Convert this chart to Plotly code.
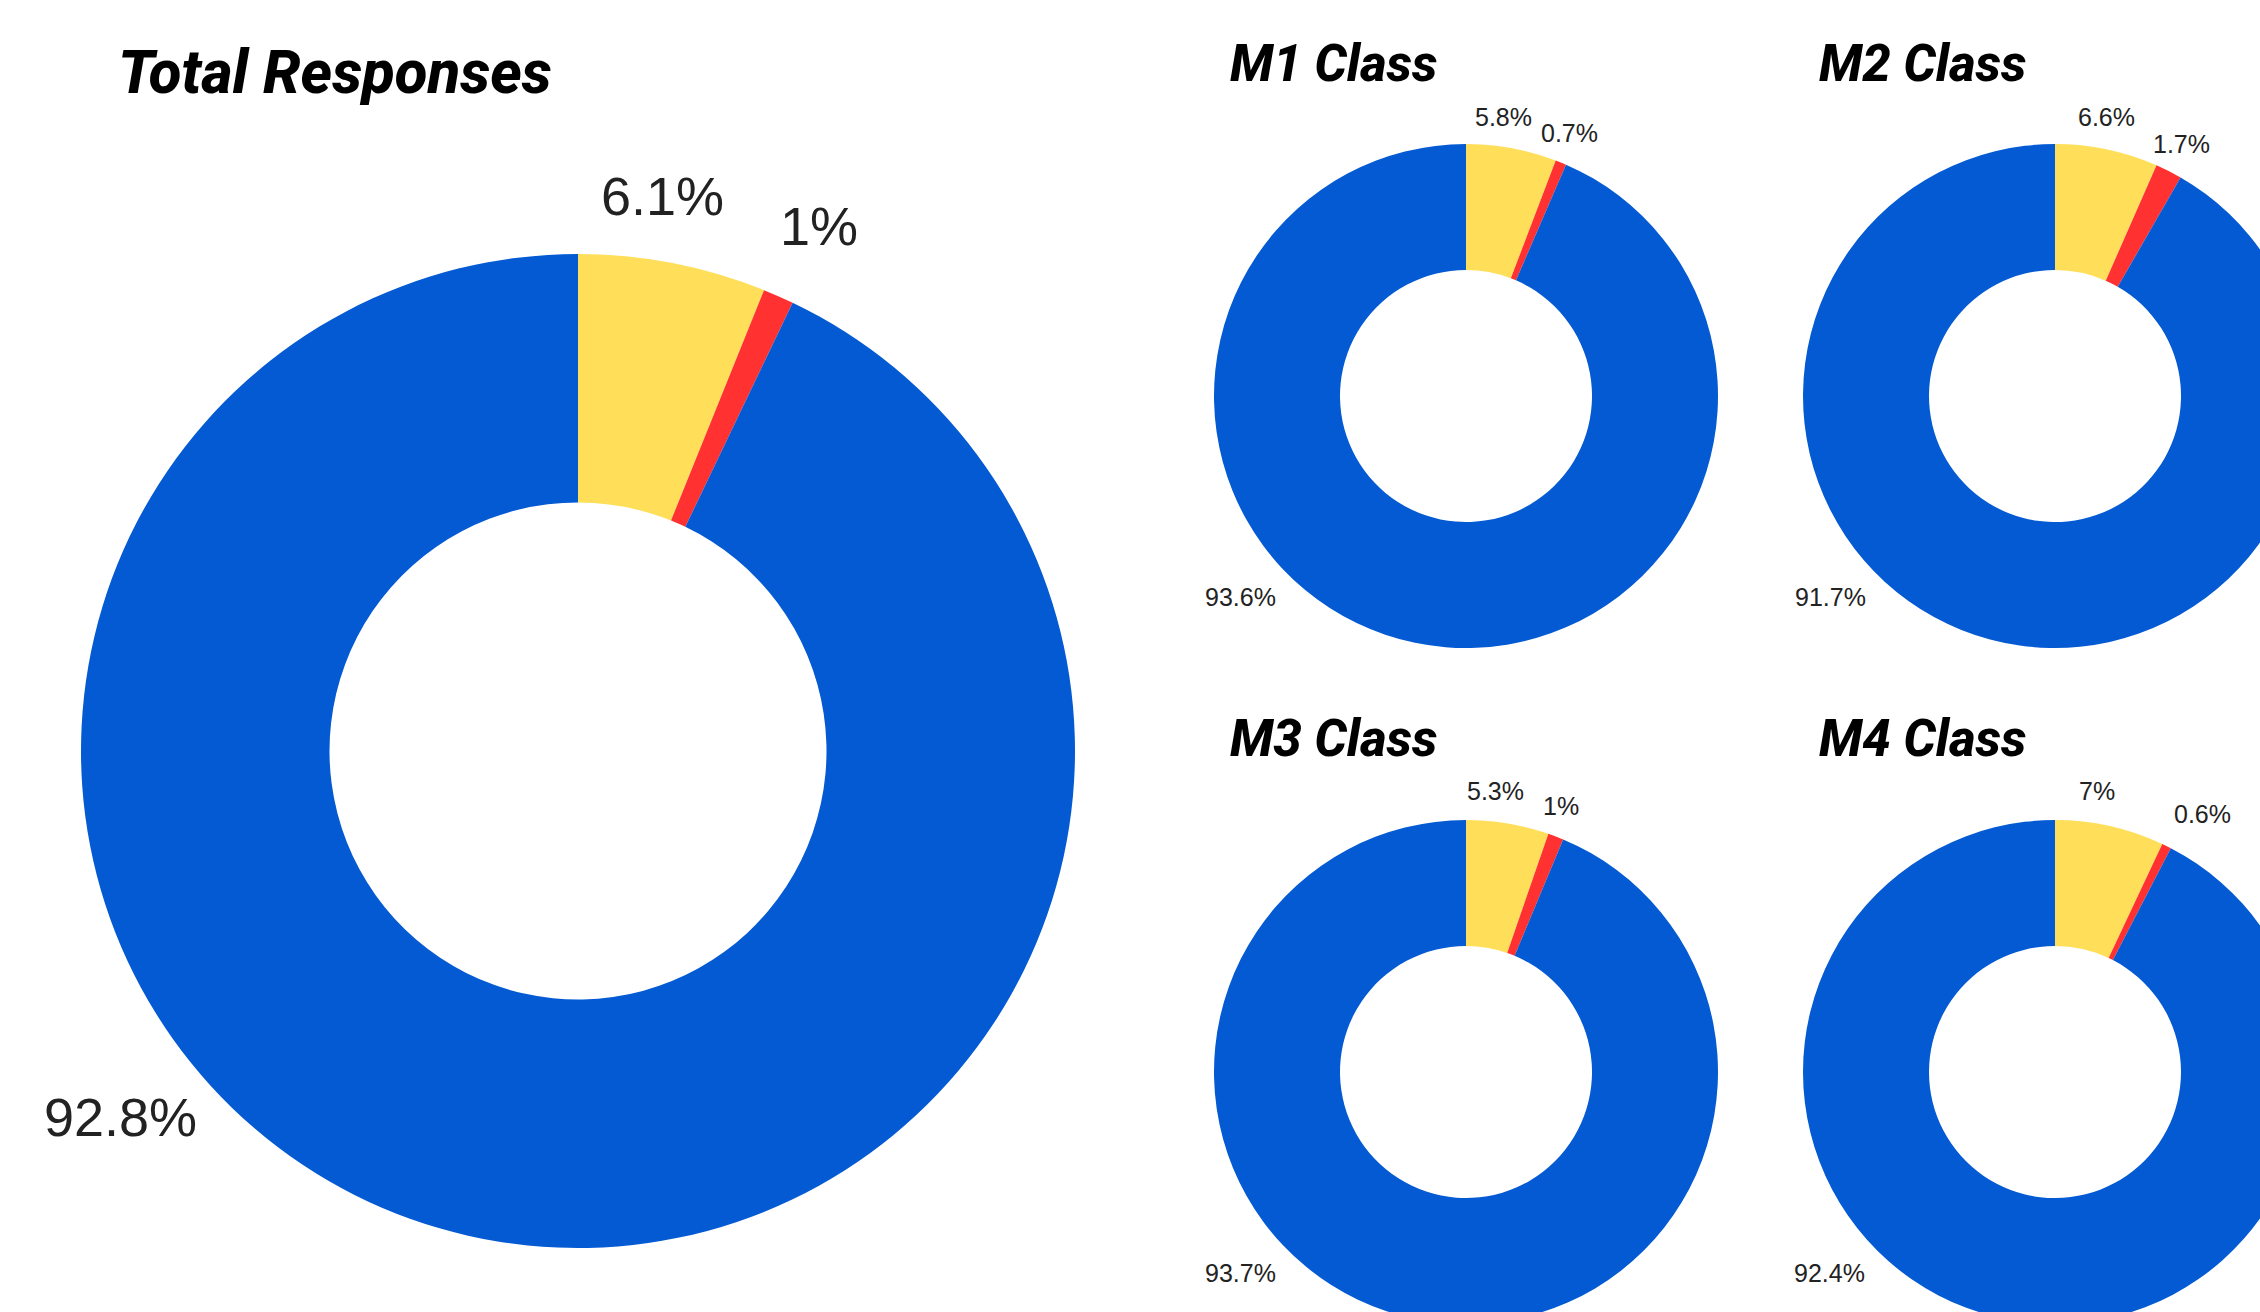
import plotly.graph_objects as go

# ---- data ----
categories = ["Yellow", "Red", "Blue"]
colors = ["#FFDE59", "#FF3131", "#035AD3"]

titles = ["Total Responses", "M1 Class", "M2 Class", "M3 Class", "M4 Class"]
total_vals = [6.1, 1, 92.8]
m1_vals = [5.8, 0.7, 93.6]
m2_vals = [6.6, 1.7, 91.7]
m3_vals = [5.3, 1, 93.7]
m4_vals = [7, 0.6, 92.4]
series = [total_vals, m1_vals, m2_vals, m3_vals, m4_vals]

# ---- layout (pixels) ----
W, H = 2320, 1330
# (cx, cy, r)
pies = [(578, 751, 497), (1466, 396, 252), (2055, 396, 252),
        (1466, 1072, 252), (2055, 1072, 252)]
title_pos = [(335, 73, 60), (1333, 63, 51), (1923, 63, 51),
             (1333, 738, 51), (1923, 738, 51)]
# label positions for [yellow, red, blue]
label_pos = [
    [(662, 196), (819, 226), (120, 1117)],
    [(1503, 117), (1569, 133), (1240, 597)],
    [(2106, 117), (2181, 144), (1830, 597)],
    [(1495, 791), (1561, 806), (1240, 1273)],
    [(2097, 791), (2202, 814), (1829, 1273)],
]
label_size = [54, 25, 25, 25, 25]

fig = go.Figure()
annotations = []
for i, vals in enumerate(series):
    cx, cy, r = pies[i]
    fig.add_trace(go.Pie(
        labels=categories,
        values=vals,
        hole=0.5,
        sort=False,
        direction="clockwise",
        rotation=0,
        marker=dict(colors=colors, line=dict(width=0)),
        textinfo="none",
        hoverinfo="label+percent",
        showlegend=False,
        domain=dict(x=[(cx - r) / W, (cx + r) / W],
                    y=[1 - (cy + r) / H, 1 - (cy - r) / H]),
    ))
    tx, ty, ts = title_pos[i]
    annotations.append(dict(
        text=titles[i], x=tx / W, y=1 - ty / H, xref="paper", yref="paper",
        xanchor="center", yanchor="middle", showarrow=False,
        font=dict(family="Roboto", size=ts, color="#000000",
                  weight=800, style="italic"),
    ))
    for j, v in enumerate(vals):
        lx, ly = label_pos[i][j]
        annotations.append(dict(
            text=f"{v:g}%", x=lx / W, y=1 - ly / H, xref="paper", yref="paper",
            xanchor="center", yanchor="middle", showarrow=False,
            font=dict(family="Liberation Sans", size=label_size[i],
                      color="#222222"),
        ))

fig.update_layout(
    width=W, height=H, autosize=False,
    margin=dict(l=0, r=0, t=0, b=0),
    paper_bgcolor="white", plot_bgcolor="white",
    annotations=annotations,
)

fig.write_html(
    "out.html",
    post_script=("document.body.style.margin='0';"
                 "document.body.style.overflow='hidden';"
                 "document.documentElement.style.overflow='hidden';"),
)
